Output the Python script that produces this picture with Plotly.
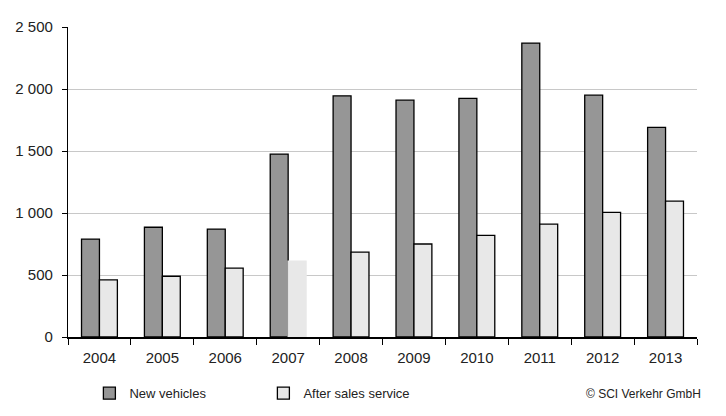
import plotly.graph_objects as go

years = ["2004", "2005", "2006", "2007", "2008", "2009", "2010", "2011", "2012", "2013"]
new_vehicles = [790, 885, 870, 1475, 1945, 1910, 1925, 2370, 1950, 1690]
after_sales = [460, 490, 555, 612, 685, 750, 820, 910, 1005, 1095]

FONT = "Liberation Sans, Arial, sans-serif"

fig = go.Figure()
fig.add_trace(go.Bar(
    x=years, y=new_vehicles, name="New vehicles",
    marker=dict(color="#969696", line=dict(color="#000000", width=1.3)),
))
fig.add_trace(go.Bar(
    x=years, y=after_sales, name="After sales service",
    marker=dict(color="#e8e8e8",
                line=dict(color=["#000000"] * 3 + ["#e8e8e8"] + ["#000000"] * 6, width=1.3)),
))

fig.update_layout(
    width=726, height=416,
    margin=dict(l=68, r=29, t=27, b=79, autoexpand=False),
    paper_bgcolor="white", plot_bgcolor="white",
    barmode="group", bargap=0.43, bargroupgap=0,
    separators=". ",
    font=dict(family=FONT, size=15, color="#222222"),
    showlegend=True,
    legend=dict(orientation="h", x=0.034, xanchor="left", y=-0.1815, yanchor="middle",
                font=dict(size=13), entrywidth=129, entrywidthmode="pixels",
                itemwidth=30, traceorder="normal"),
    annotations=[dict(text="© SCI Verkehr GmbH", xref="paper", yref="paper",
                      x=1.01, xanchor="right", y=-0.184, yanchor="middle",
                      showarrow=False, font=dict(size=12, color="#222222"))],
)
fig.update_xaxes(
    type="category", showline=True, linecolor="#000000", linewidth=1.5,
    ticks="outside", tickson="boundaries", ticklen=6, tickcolor="#000000", tickwidth=1.3,
    showgrid=False, ticklabelstandoff=6, automargin=False,
)
fig.update_yaxes(
    range=[0, 2500], tickvals=[0, 500, 1000, 1500, 2000, 2500], tickformat=",d",
    separatethousands=True,
    showline=True, linecolor="#000000", linewidth=1.3,
    ticks="outside", ticklen=5, tickcolor="#000000", tickwidth=1.3,
    showgrid=True, gridcolor="#c8c8c8", gridwidth=1, zeroline=False,
    ticklabelstandoff=6, automargin=False,
)

fig.write_html("out.html")
